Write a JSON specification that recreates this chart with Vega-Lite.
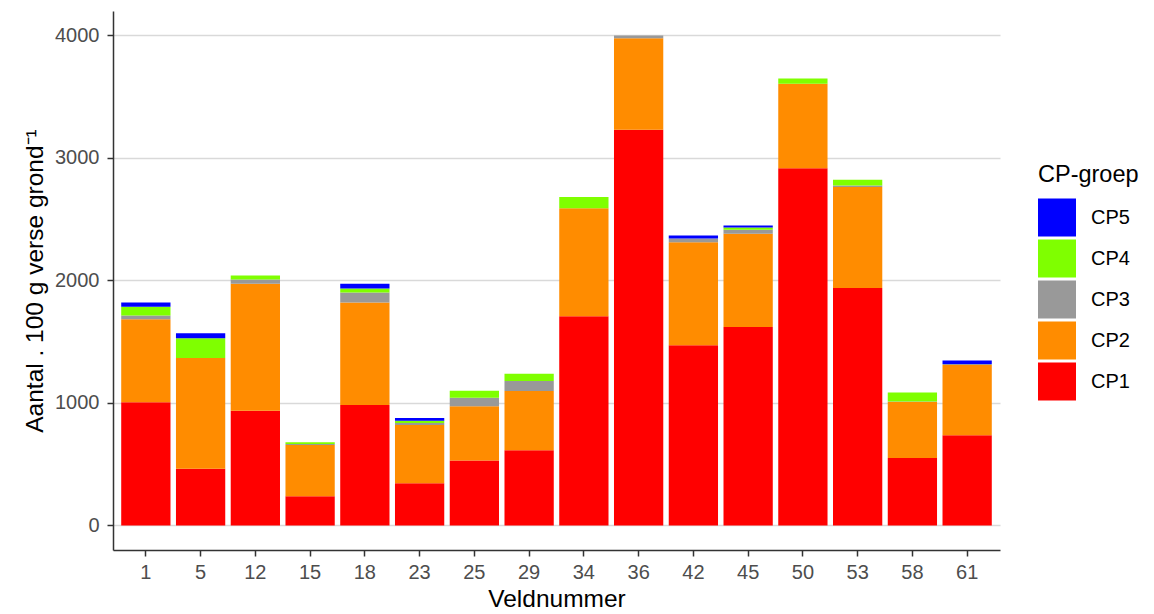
{
  "$schema": "https://vega.github.io/schema/vega-lite/v6.json",
  "autosize": {"type": "none"},
  "padding": {"left": 113, "top": 11, "right": 154, "bottom": 64},
  "width": 887,
  "height": 539,
  "background": "white",
  "data": {
    "values": [
      {"veld": "1", "groep": "CP1", "aantal": 1005},
      {"veld": "1", "groep": "CP2", "aantal": 676},
      {"veld": "1", "groep": "CP3", "aantal": 32},
      {"veld": "1", "groep": "CP4", "aantal": 70},
      {"veld": "1", "groep": "CP5", "aantal": 36},
      {"veld": "5", "groep": "CP1", "aantal": 462},
      {"veld": "5", "groep": "CP2", "aantal": 904},
      {"veld": "5", "groep": "CP4", "aantal": 162},
      {"veld": "5", "groep": "CP5", "aantal": 39},
      {"veld": "12", "groep": "CP1", "aantal": 936},
      {"veld": "12", "groep": "CP2", "aantal": 1035},
      {"veld": "12", "groep": "CP3", "aantal": 36},
      {"veld": "12", "groep": "CP4", "aantal": 32},
      {"veld": "15", "groep": "CP1", "aantal": 239},
      {"veld": "15", "groep": "CP2", "aantal": 418},
      {"veld": "15", "groep": "CP3", "aantal": 8},
      {"veld": "15", "groep": "CP4", "aantal": 14},
      {"veld": "18", "groep": "CP1", "aantal": 983},
      {"veld": "18", "groep": "CP2", "aantal": 836},
      {"veld": "18", "groep": "CP3", "aantal": 82},
      {"veld": "18", "groep": "CP4", "aantal": 32},
      {"veld": "18", "groep": "CP5", "aantal": 38},
      {"veld": "23", "groep": "CP1", "aantal": 345},
      {"veld": "23", "groep": "CP2", "aantal": 475},
      {"veld": "23", "groep": "CP3", "aantal": 16},
      {"veld": "23", "groep": "CP4", "aantal": 19},
      {"veld": "23", "groep": "CP5", "aantal": 22},
      {"veld": "25", "groep": "CP1", "aantal": 529},
      {"veld": "25", "groep": "CP2", "aantal": 443},
      {"veld": "25", "groep": "CP3", "aantal": 70},
      {"veld": "25", "groep": "CP4", "aantal": 57},
      {"veld": "29", "groep": "CP1", "aantal": 614},
      {"veld": "29", "groep": "CP2", "aantal": 483},
      {"veld": "29", "groep": "CP3", "aantal": 81},
      {"veld": "29", "groep": "CP4", "aantal": 60},
      {"veld": "34", "groep": "CP1", "aantal": 1706},
      {"veld": "34", "groep": "CP2", "aantal": 882},
      {"veld": "34", "groep": "CP4", "aantal": 90},
      {"veld": "36", "groep": "CP1", "aantal": 3227},
      {"veld": "36", "groep": "CP2", "aantal": 747},
      {"veld": "36", "groep": "CP3", "aantal": 22},
      {"veld": "42", "groep": "CP1", "aantal": 1469},
      {"veld": "42", "groep": "CP2", "aantal": 840},
      {"veld": "42", "groep": "CP3", "aantal": 32},
      {"veld": "42", "groep": "CP5", "aantal": 25},
      {"veld": "45", "groep": "CP1", "aantal": 1619},
      {"veld": "45", "groep": "CP2", "aantal": 761},
      {"veld": "45", "groep": "CP3", "aantal": 32},
      {"veld": "45", "groep": "CP4", "aantal": 19},
      {"veld": "45", "groep": "CP5", "aantal": 16},
      {"veld": "50", "groep": "CP1", "aantal": 2914},
      {"veld": "50", "groep": "CP2", "aantal": 688},
      {"veld": "50", "groep": "CP4", "aantal": 43},
      {"veld": "53", "groep": "CP1", "aantal": 1936},
      {"veld": "53", "groep": "CP2", "aantal": 824},
      {"veld": "53", "groep": "CP3", "aantal": 13},
      {"veld": "53", "groep": "CP4", "aantal": 47},
      {"veld": "58", "groep": "CP1", "aantal": 551},
      {"veld": "58", "groep": "CP2", "aantal": 456},
      {"veld": "58", "groep": "CP3", "aantal": 5},
      {"veld": "58", "groep": "CP4", "aantal": 72},
      {"veld": "61", "groep": "CP1", "aantal": 736},
      {"veld": "61", "groep": "CP2", "aantal": 573},
      {"veld": "61", "groep": "CP3", "aantal": 8},
      {"veld": "61", "groep": "CP5", "aantal": 28}
    ]
  },
  "config": {
    "view": {"stroke": null},
    "font": "Liberation Sans",
    "axis": {
      "labelFont": "Liberation Sans",
      "titleFont": "Liberation Sans",
      "labelFontSize": 20,
      "labelColor": "#4D4D4D",
      "titleFontSize": 24.5,
      "titleFontWeight": "normal",
      "titleColor": "#000000",
      "domainColor": "#333333",
      "domainWidth": 1.5,
      "tickColor": "#333333",
      "tickWidth": 1.5,
      "tickSize": 6
    },
    "legend": {
      "labelFont": "Liberation Sans",
      "titleFont": "Liberation Sans"
    }
  },
  "mark": {"type": "bar"},
  "encoding": {
    "x": {
      "field": "veld",
      "type": "ordinal",
      "sort": ["1", "5", "12", "15", "18", "23", "25", "29", "34", "36", "42", "45", "50", "53", "58", "61"],
      "scale": {"paddingInner": 0.1, "paddingOuter": 0.15},
      "axis": {
        "title": "Veldnummer",
        "labelAngle": 0,
        "labelPadding": 6,
        "titlePadding": 5,
        "grid": false
      }
    },
    "y": {
      "field": "aantal",
      "type": "quantitative",
      "aggregate": "sum",
      "stack": "zero",
      "scale": {"domain": [-200, 4196], "nice": false, "zero": false},
      "axis": {
        "title": "Aantal . 100 g verse grond⁻¹",
        "values": [0, 1000, 2000, 3000, 4000],
        "format": "d",
        "labelPadding": 8,
        "titlePadding": 7,
        "grid": true,
        "gridColor": "#D9D9D9",
        "gridWidth": 1.3
      }
    },
    "color": {
      "field": "groep",
      "type": "nominal",
      "scale": {
        "domain": ["CP5", "CP4", "CP3", "CP2", "CP1"],
        "range": ["#0000FF", "#7FFF00", "#999999", "#FF8C00", "#FF0000"]
      },
      "legend": {
        "title": "CP-groep",
        "orient": "none",
        "legendX": 925,
        "legendY": 152,
        "titleFontSize": 23.5,
        "titleFontWeight": "normal",
        "titleColor": "#000000",
        "titlePadding": 12,
        "labelFontSize": 20,
        "labelColor": "#000000",
        "labelOffset": 15,
        "symbolType": "square",
        "symbolSize": 1444,
        "symbolStrokeWidth": 0,
        "symbolOpacity": 1,
        "rowPadding": 3,
        "padding": 0
      }
    },
    "order": {"field": "groep", "sort": "ascending"}
  }
}
